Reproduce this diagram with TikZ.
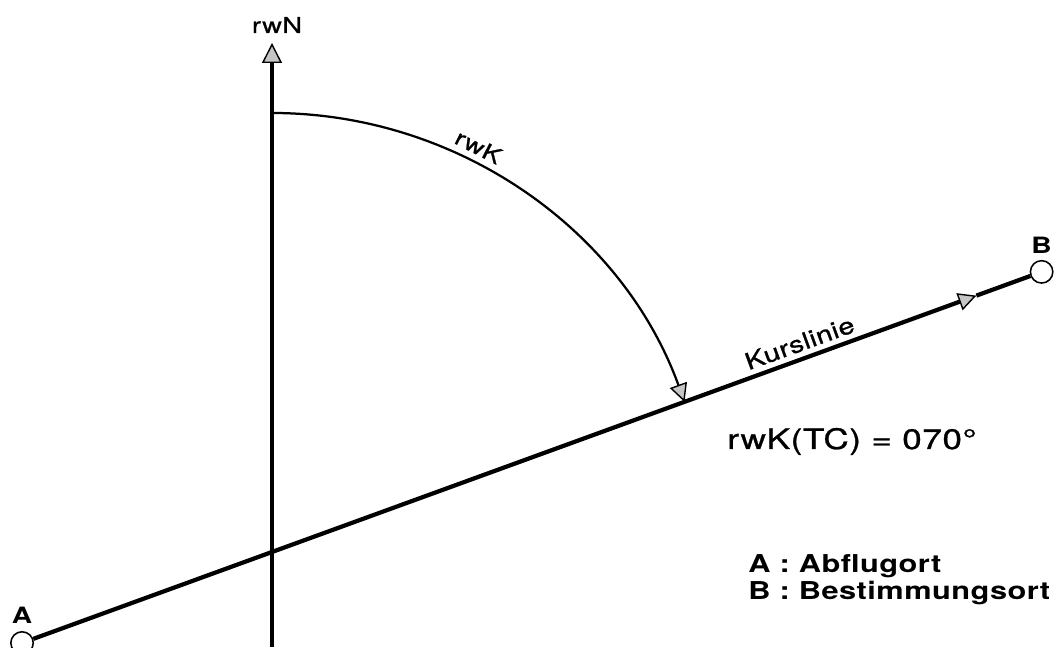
\documentclass[tikz,border=0pt]{standalone}
\usepackage{fontspec}
\setmainfont[FakeStretch=1.25,LetterSpace=2]{TeX Gyre Heros}
\newfontfamily\lblfont[FakeStretch=1.25,LetterSpace=2,FakeBold=1]{TeX Gyre Heros}
\usetikzlibrary{calc,arrows.meta}

\begin{document}
\begin{tikzpicture}[x=0.025cm, y=0.025cm,
  station/.style={circle, draw, line width=1.1pt, fill=white, inner sep=0pt, minimum size=0.56cm},
  gtip/.style={-{Triangle[length=#1, width=#1, line width=1pt, fill=gray!45]}},
  lbl/.style={font=\lblfont\fontsize{15.5}{18}\selectfont},
  ptlbl/.style={font=\fontsize{16}{18}\selectfont\bfseries, inner sep=0pt, anchor=base},
  course/.style={line width=3pt}]
  \useasboundingbox (0,0) rectangle (1060,648);

  % Schnittpunkt rwN / Kurslinie
  \coordinate (O) at (272,96);

  % Abflugort und Bestimmungsort
  \node[station] (ptA) at ($(O)+(200:266)$) {};
  \node[station] (ptB) at ($(O)+(20:819)$) {};
  \node[ptlbl] (labA) at ($(ptA.north)+(0,7)$) {A};
  \node[ptlbl] (labB) at ($(ptB.north)+(0,6)$) {B};

  % rwN
  \coordinate (S) at (272,1);
  \coordinate (N) at (272,605);
  \draw[line width=2.2pt, gtip=0.5cm] (S) -- (N);
  \node[lbl, inner sep=0pt, anchor=base] (rwN) at (277,615) {rwN};

  % rwK
  \draw[line width=1.6pt, gtip=0.45cm] ($(O)+(90:439)$) arc[start angle=90, end angle=20, radius=439];
  \node[lbl, rotate=-27, anchor=south, inner sep=4pt] (rwK) at ($(O)+(63:441)$) {rwK};

  % Kurslinie
  \coordinate (M) at ($(ptA)!0.936!(ptB)$);
  \draw[course, gtip=0.45cm] (ptA) -- (M);
  \draw[course] (M) -- (ptB);
  \node[lbl, font=\lblfont\fontsize{16.5}{19}\selectfont, rotate=20, anchor=south, inner sep=5pt] (kurs)
    at ($(ptA)!0.768!(ptB)$) {Kurslinie};

  \node[lbl, font=\lblfont\fontsize{20}{24}\selectfont, inner sep=0pt, anchor=base] (tc) at (852,199) {rwK(TC) = 070°};

  % Legende
  \node[font=\fontsize{17.5}{19.5}\selectfont\bfseries, inner sep=0pt, anchor=base west, align=left] (leg)
    at (748,48) {A : Abflugort\\B : Bestimmungsort};
\end{tikzpicture}
\end{document}
